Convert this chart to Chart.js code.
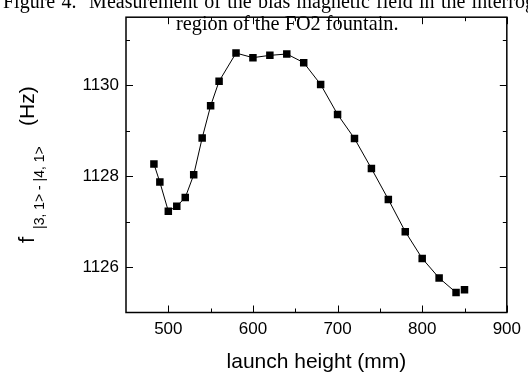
<!DOCTYPE html>
<html>
<head>
<meta charset="utf-8">
<script src="https://cdn.jsdelivr.net/npm/chart.js@4/dist/chart.umd.min.js"></script>
<style>
  html, body { margin: 0; padding: 0; background: #fff; }
  #wrap { position: relative; width: 528px; height: 377px; }
</style>
</head>
<body>
<div id="wrap"><canvas id="chart" width="528" height="377"></canvas></div>
<script>
const HEIGHTS = [483, 490, 500, 510, 520, 530, 540, 550, 560, 580, 600, 620, 640,
  660, 680, 700, 720, 740, 760, 780, 800, 820, 840, 850];
const FREQS = [1128.27, 1127.87, 1127.23, 1127.34, 1127.53, 1128.03, 1128.84, 1129.55,
  1130.09, 1130.71, 1130.61, 1130.66, 1130.69, 1130.50, 1130.02, 1129.36, 1128.83,
  1128.17, 1127.49, 1126.78, 1126.19, 1125.76, 1125.44, 1125.50];

const X_TICKS = [500, 600, 700, 800, 900];
const X_MINOR = [550, 650, 750, 850];
const Y_TICKS = [1126, 1128, 1130];
const Y_MINOR = [1127, 1129, 1131];

const CAPTION = [
  'Figure 4.  Measurement of the bias magnetic field in the interrogation',
  'region of the FO2 fountain.',
];
const X_TITLE = 'launch height (mm)';
const Y_TITLE = ['f', '|3, 1> - |4, 1>', '(Hz)'];

const SANS = '"Liberation Sans", Arial, sans-serif';
const SERIF = '"Liberation Serif", "Times New Roman", serif';

// inward ticks on all four sides plus the box
const frameTicks = {
  id: 'frameTicks',
  afterDraw(chart) {
    const { ctx, chartArea: a, scales: { x, y } } = chart;
    const seg = (x1, y1, x2, y2) => {
      ctx.beginPath();
      ctx.moveTo(x1, y1);
      ctx.lineTo(x2, y2);
      ctx.stroke();
    };
    ctx.save();
    ctx.strokeStyle = '#000';
    ctx.lineWidth = 1;
    const xt = (v, len) => {
      const p = Math.round(x.getPixelForValue(v)) + 0.5;
      seg(p, a.bottom, p, a.bottom - len);
      seg(p, a.top, p, a.top + len);
    };
    const yt = (v, len) => {
      const p = Math.round(y.getPixelForValue(v)) + 0.5;
      seg(a.left, p, a.left + len, p);
      seg(a.right, p, a.right - len, p);
    };
    X_TICKS.forEach((v) => xt(v, 7));
    X_MINOR.forEach((v) => xt(v, 4));
    Y_TICKS.forEach((v) => yt(v, 7));
    Y_MINOR.forEach((v) => yt(v, 4));
    ctx.lineWidth = 1.5;
    ctx.strokeRect(a.left, a.top, a.right - a.left, a.bottom - a.top);
    ctx.restore();
  },
};

// y title with subscript, rotated
const yTitle = {
  id: 'yTitle',
  afterDraw(chart) {
    const { ctx } = chart;
    ctx.save();
    ctx.translate(34, 243);
    ctx.rotate(-Math.PI / 2);
    ctx.fillStyle = '#000';
    ctx.textBaseline = 'alphabetic';
    ctx.textAlign = 'left';
    ctx.font = `22px ${SANS}`;
    ctx.fillText(Y_TITLE[0], 0, 0);
    ctx.font = `14px ${SANS}`;
    ctx.fillText(Y_TITLE[1], 14, 10);
    ctx.font = `21px ${SANS}`;
    ctx.fillText(Y_TITLE[2], 117, 0);
    ctx.restore();
  },
};

// caption laid over the top of the figure (justified text, so wider spaces)
const caption = {
  id: 'caption',
  afterDraw(chart) {
    const { ctx, width } = chart;
    ctx.save();
    ctx.fillStyle = '#fff';
    ctx.fillRect(0, 0, width, 12.5);
    ctx.fillStyle = '#000';
    ctx.font = `20px ${SERIF}`;
    ctx.textAlign = 'left';
    ctx.textBaseline = 'alphabetic';
    if ('wordSpacing' in ctx) ctx.wordSpacing = '1.3px';
    ctx.fillText(CAPTION[0], 3, 7.5);
    if ('wordSpacing' in ctx) ctx.wordSpacing = '0px';
    ctx.font = `20.3px ${SERIF}`;
    ctx.fillText(CAPTION[1], 176, 30);
    ctx.restore();
  },
};

const points = HEIGHTS.map((h, i) => ({ x: h, y: FREQS[i] }));
const last = HEIGHTS.length - 1;

new Chart(document.getElementById('chart'), {
  type: 'line',
  data: {
    datasets: [{
      data: points,
      borderColor: '#000',
      borderWidth: 1,
      tension: 0,
      pointStyle: 'rect',
      pointRadius: 5.3,
      pointBackgroundColor: '#000',
      pointBorderWidth: 0,
      segment: {
        borderColor: (c) => (c.p1DataIndex === last ? 'rgba(0,0,0,0)' : '#000'),
      },
    }],
  },
  options: {
    responsive: false,
    animation: false,
    devicePixelRatio: 1,
    layout: { padding: { top: 9, right: 18, left: 0, bottom: 0 } },
    plugins: {
      legend: { display: false },
      tooltip: { enabled: false },
    },
    scales: {
      x: {
        type: 'linear',
        min: 450,
        max: 900,
        afterBuildTicks: (s) => { s.ticks = X_TICKS.map((v) => ({ value: v })); },
        afterFit: (s) => { s.height = 64.5; },
        grid: { display: false, drawTicks: false },
        border: { display: false },
        ticks: {
          color: '#000',
          padding: 7,
          font: { family: SANS, size: 17 },
          maxRotation: 0,
          callback: (v) => String(v),
        },
        title: {
          display: true,
          text: X_TITLE,
          color: '#000',
          font: { family: SANS, size: 21 },
          padding: { top: 0, bottom: 2 },
        },
      },
      y: {
        min: 1125,
        max: 1131.5,
        afterBuildTicks: (s) => { s.ticks = Y_TICKS.map((v) => ({ value: v })); },
        afterFit: (s) => { s.width = 126; },
        grid: { display: false, drawTicks: false },
        border: { display: false },
        ticks: {
          color: '#000',
          padding: 7,
          font: { family: SANS, size: 17 },
          callback: (v) => String(v),
        },
      },
    },
  },
  plugins: [frameTicks, yTitle, caption],
});
</script>
</body>
</html>
